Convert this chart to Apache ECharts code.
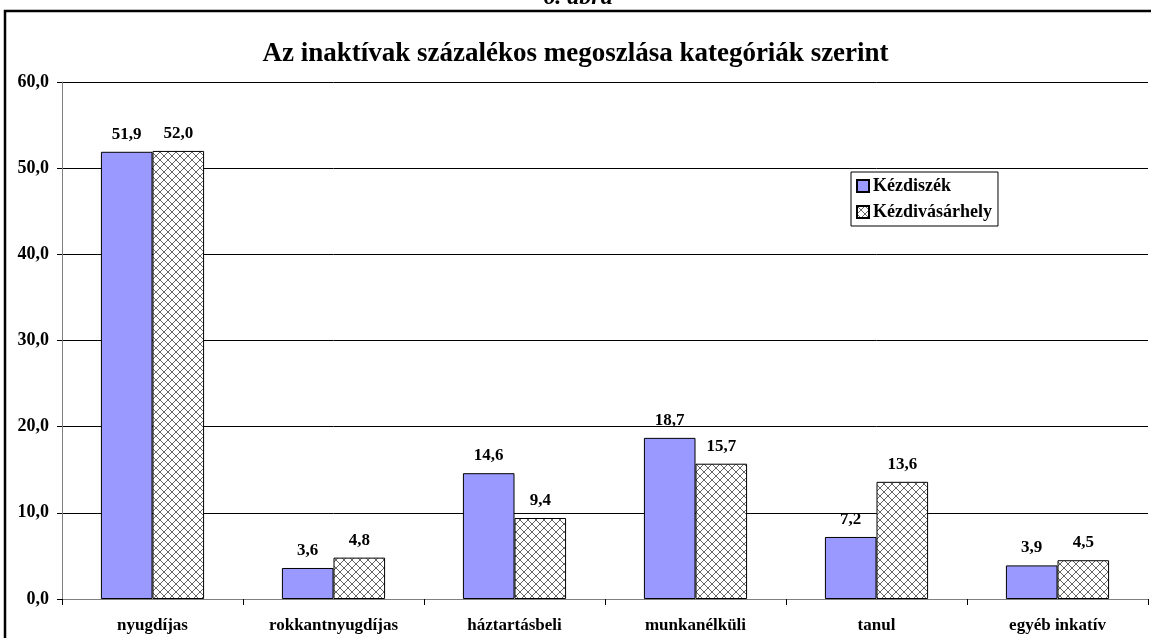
<!DOCTYPE html>
<html><head><meta charset="utf-8">
<script src="https://cdn.jsdelivr.net/npm/echarts@6/dist/echarts.min.js"></script>
<style>html,body{margin:0;padding:0;background:#fff}#c{width:1151px;height:638px}</style>
</head><body><div id="c"></div>
<script>
const categories = ['nyugdíjas','rokkantnyugdíjas','háztartásbeli','munkanélküli','tanul','egyéb inkatív'];
const kezdiszek = [51.9, 3.6, 14.6, 18.7, 7.2, 3.9];
const kezdivasarhely = [52.0, 4.8, 9.4, 15.7, 13.6, 4.5];
const seriesNames = ['Kézdiszék', 'Kézdivásárhely'];
const titleText = 'Az inaktívak százalékos megoszlása kategóriák szerint';
const figText = '6. ábra';

const FONT = '"Liberation Serif", "Times New Roman", serif';
function fmt(v){ return v.toFixed(1).replace('.', ','); }

const pc = document.createElement('canvas');
pc.width = 8; pc.height = 8;
const g = pc.getContext('2d');
g.fillStyle = '#fff'; g.fillRect(0,0,8,8);
g.strokeStyle = '#666'; g.lineWidth = 1;
g.beginPath(); g.moveTo(0,0); g.lineTo(8,8); g.moveTo(8,0); g.lineTo(0,8); g.stroke();

const chart = echarts.init(document.getElementById('c'));
const labelStyle = {show:true, position:'top', distance:9, fontFamily:FONT, fontWeight:'bold', fontSize:17, color:'#000', formatter:p=>fmt(p.value)};
chart.setOption({
  animation:false,
  backgroundColor:'#fff',
  title:{text:titleText, left:'center', top:36, textStyle:{fontFamily:FONT, fontWeight:'bold', fontSize:27, color:'#000'}},
  graphic:[
    {type:'rect', shape:{x:5, y:11, width:1200, height:700}, style:{fill:'none', stroke:'#000', lineWidth:2.5}, z:100},
    {type:'text', x:578, y:-14, style:{text:figText, fontFamily:FONT, fontWeight:'bold', fontStyle:'italic', fontSize:24, fill:'#000', align:'center'}}
  ],
  legend:{
    left:851, top:172, orient:'vertical', itemWidth:12, itemHeight:12, itemGap:8,
    borderColor:'#000', borderWidth:1, padding:[5,6,5,5],
    textStyle:{fontFamily:FONT, fontWeight:'bold', fontSize:18, color:'#000', padding:[0,0,0,-1]},
    data:[{name:seriesNames[0], icon:'rect'}, {name:seriesNames[1], icon:'rect'}]
  },
  grid:{left:62, right:3, top:82, bottom:39},
  xAxis:{type:'category', data:categories,
    axisLine:{lineStyle:{color:'#808080', width:1}},
    axisTick:{show:true, length:6, lineStyle:{color:'#000'}},
    axisLabel:{fontFamily:FONT, fontWeight:'bold', fontSize:17, color:'#000', margin:18}},
  yAxis:{type:'value', min:0, max:60, interval:10,
    axisLine:{show:true, lineStyle:{color:'#808080'}},
    axisTick:{show:true, length:5, lineStyle:{color:'#000'}},
    splitLine:{lineStyle:{color:'#000', width:1}},
    axisLabel:{fontFamily:FONT, fontWeight:'bold', fontSize:18, color:'#000', margin:13, formatter:v=>fmt(v)}},
  series:[
    {name:seriesNames[0], type:'bar', data:kezdiszek, barGap:'0%', barCategoryGap:'43%',
      itemStyle:{color:'#9999FF', borderColor:'#000', borderWidth:1}, label:labelStyle},
    {name:seriesNames[1], type:'bar', data:kezdivasarhely,
      itemStyle:{color:{image:pc, repeat:'repeat'}, borderColor:'#000', borderWidth:1}, label:labelStyle}
  ]
});
</script></body></html>
